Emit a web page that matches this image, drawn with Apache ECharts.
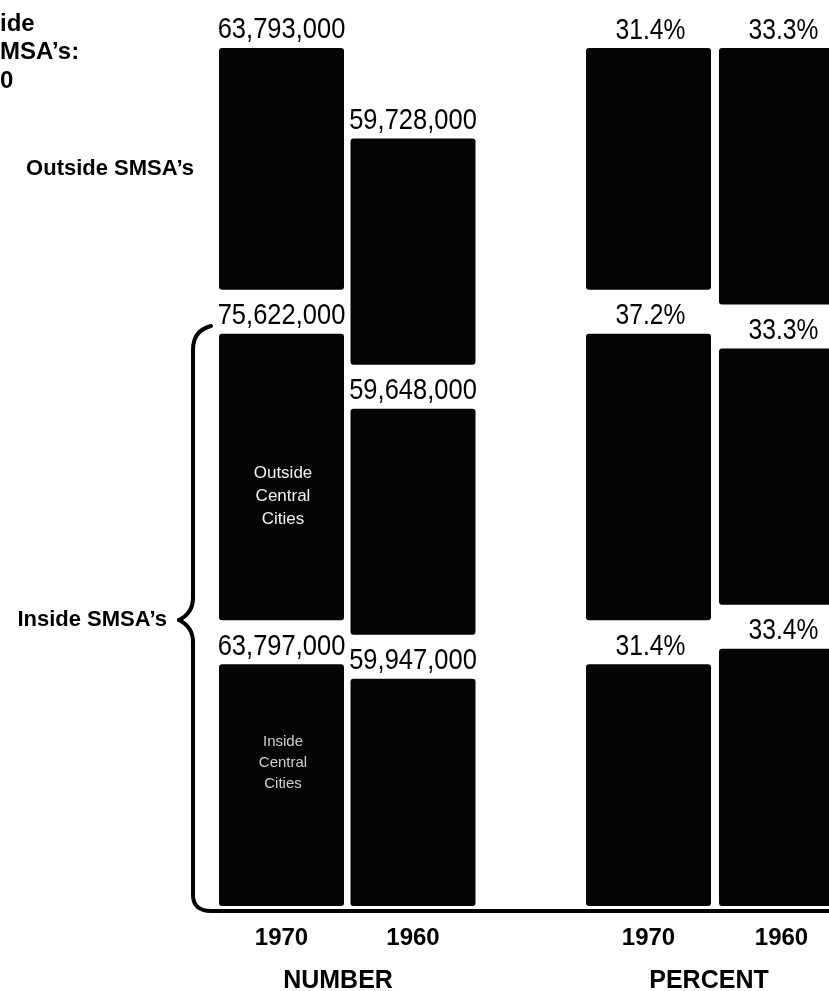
<!DOCTYPE html>
<html>
<head>
<meta charset="utf-8">
<script src="https://cdn.jsdelivr.net/npm/echarts@6/dist/echarts.min.js"></script>
<style>
  html, body { margin: 0; padding: 0; background: #fff; }
  #chart { width: 829px; height: 991px; }
</style>
</head>
<body>
<div id="chart"></div>
<script>
// ---- data ----
const years = ['1970', '1960'];
const numInsideCC = [63797000, 59947000];
const numOutsideCC = [75622000, 59648000];
const numOutsideSMSA = [63793000, 59728000];
const pctInsideCC = [31.4, 33.4];
const pctOutsideCC = [37.2, 33.3];
const pctOutsideSMSA = [31.4, 33.3];
const segmentNames = ['Inside Central Cities', 'Outside Central Cities', "Outside SMSA's"];

// ---- layout ----
const PLOT_TOP = 48, PLOT_BOTTOM = 906;
const PLOT_H = PLOT_BOTTOM - PLOT_TOP;
const GAP = 44;       // pixel gap between stacked segments
const BAR_W = 125;
const FONT = "'Liberation Sans', Arial, Helvetica, sans-serif";

const numSegs = [numInsideCC, numOutsideCC, numOutsideSMSA];
const pctSegs = [pctInsideCC, pctOutsideCC, pctOutsideSMSA];
const numTotals = years.map((_, i) => numSegs.reduce((s, a) => s + a[i], 0));
const numMax = Math.max(...numTotals) * PLOT_H / (PLOT_H - 2 * GAP);
const pctMax = 100 * PLOT_H / (PLOT_H - 2 * GAP);

function renderSeg(isNum) {
  return function (params, api) {
    const ci = api.value(0), v = api.value(1), base = api.value(2), level = api.value(3);
    const pB = api.coord([ci, base]);
    const pT = api.coord([ci, base + v]);
    const yb = pB[1] - level * GAP;
    const yt = pT[1] - level * GAP;
    const x0 = pB[0] - BAR_W / 2;
    const label = isNum ? Math.round(v).toLocaleString('en-US') : v.toFixed(1) + '%';
    return {
      type: 'group',
      children: [
        { type: 'rect', shape: { x: x0, y: yt, width: BAR_W, height: yb - yt, r: 3 },
          style: { fill: '#050505' } },
        { type: 'text',
          x: pB[0] + (isNum ? 0 : 2),
          y: yt - 3,
          scaleX: 0.85,
          style: {
            text: label,
            x: 0, y: 0,
            align: 'center',
            verticalAlign: 'bottom',
            font: (isNum ? '30px ' : '29px ') + FONT,
            fill: '#000'
          } }
      ]
    };
  };
}

function buildSeries(segs, isNum, axisIdx) {
  return segs.map((arr, level) => ({
    name: segmentNames[level],
    type: 'custom',
    xAxisIndex: axisIdx,
    yAxisIndex: axisIdx,
    clip: false,
    renderItem: renderSeg(isNum),
    data: years.map((_, i) => {
      let base = 0;
      for (let k = 0; k < level; k++) base += segs[k][i];
      return [i, arr[i], base, level];
    })
  }));
}

const chart = echarts.init(document.getElementById('chart'), null, { renderer: 'canvas' });

const axisLabelStyle = { color: '#000', fontSize: 24, fontWeight: 'bold', fontFamily: FONT, margin: 20 };
const braceStyle = { stroke: '#000', lineWidth: 4, fill: null, lineCap: 'round' };

const option = {
  animation: false,
  backgroundColor: '#fff',
  grid: [
    { left: 215.75, width: 263, top: PLOT_TOP, height: PLOT_H, outerBoundsMode: 'none', containLabel: false },
    { left: 582, width: 266, top: PLOT_TOP, height: PLOT_H, outerBoundsMode: 'none', containLabel: false }
  ],
  xAxis: [
    { type: 'category', gridIndex: 0, data: years, axisLine: { show: false }, axisTick: { show: false }, axisLabel: axisLabelStyle },
    { type: 'category', gridIndex: 1, data: years, axisLine: { show: false }, axisTick: { show: false }, axisLabel: axisLabelStyle }
  ],
  yAxis: [
    { type: 'value', gridIndex: 0, min: 0, max: numMax, show: false, splitLine: { show: false } },
    { type: 'value', gridIndex: 1, min: 0, max: pctMax, show: false, splitLine: { show: false } }
  ],
  series: [].concat(buildSeries(numSegs, true, 0), buildSeries(pctSegs, false, 1)),
  graphic: [
    // brace and baseline
    { type: 'bezierCurve', z: 10, shape: { x1: 211, y1: 326, cpx1: 199, cpy1: 329, cpx2: 193, cpy2: 337, x2: 193, y2: 350 }, style: braceStyle },
    { type: 'line', z: 10, shape: { x1: 193, y1: 350, x2: 193, y2: 598 }, style: braceStyle },
    { type: 'bezierCurve', z: 10, shape: { x1: 193, y1: 598, cpx1: 193, cpy1: 610, cpx2: 187, cpy2: 616, x2: 179, y2: 620 }, style: braceStyle },
    { type: 'bezierCurve', z: 10, shape: { x1: 179, y1: 620, cpx1: 187, cpy1: 624, cpx2: 193, cpy2: 630, x2: 193, y2: 642 }, style: braceStyle },
    { type: 'line', z: 10, shape: { x1: 193, y1: 642, x2: 193, y2: 895 }, style: braceStyle },
    { type: 'bezierCurve', z: 10, shape: { x1: 193, y1: 895, cpx1: 193, cpy1: 905, cpx2: 199, cpy2: 911, x2: 211, y2: 911 }, style: braceStyle },
    { type: 'line', z: 10, shape: { x1: 211, y1: 911, x2: 829, y2: 911 }, style: braceStyle },
    // cropped title fragments
    { type: 'text', left: 0, top: 12, style: { text: 'ide', font: 'bold 24px ' + FONT, fill: '#000' } },
    { type: 'text', left: 0, top: 40, style: { text: 'MSA\u2019s:', font: 'bold 24px ' + FONT, fill: '#000' } },
    { type: 'text', left: 0, top: 69, style: { text: '0', font: 'bold 24px ' + FONT, fill: '#000' } },
    // group labels
    { type: 'text', z: 10, style: { text: 'Outside SMSA\u2019s', x: 194, y: 169, align: 'right', verticalAlign: 'middle', font: 'bold 22px ' + FONT, fill: '#000' } },
    { type: 'text', z: 10, style: { text: 'Inside SMSA\u2019s', x: 167, y: 620, align: 'right', verticalAlign: 'middle', font: 'bold 22px ' + FONT, fill: '#000' } },
    // in-bar labels
    { type: 'text', z: 20, style: { text: 'Outside\nCentral\nCities', x: 283, y: 462, align: 'center', verticalAlign: 'top', lineHeight: 23, font: '17px ' + FONT, fill: '#f2f2f2' } },
    { type: 'text', z: 20, style: { text: 'Inside\nCentral\nCities', x: 283, y: 731, align: 'center', verticalAlign: 'top', lineHeight: 21, font: '15px ' + FONT, fill: '#cfcfcf' } },
    // section titles
    { type: 'text', style: { text: 'NUMBER', x: 338, y: 981, align: 'center', verticalAlign: 'middle', font: 'bold 25px ' + FONT, fill: '#000' } },
    { type: 'text', style: { text: 'PERCENT', x: 709, y: 981, align: 'center', verticalAlign: 'middle', font: 'bold 25px ' + FONT, fill: '#000' } }
  ]
};

chart.setOption(option);
</script>
</body>
</html>
